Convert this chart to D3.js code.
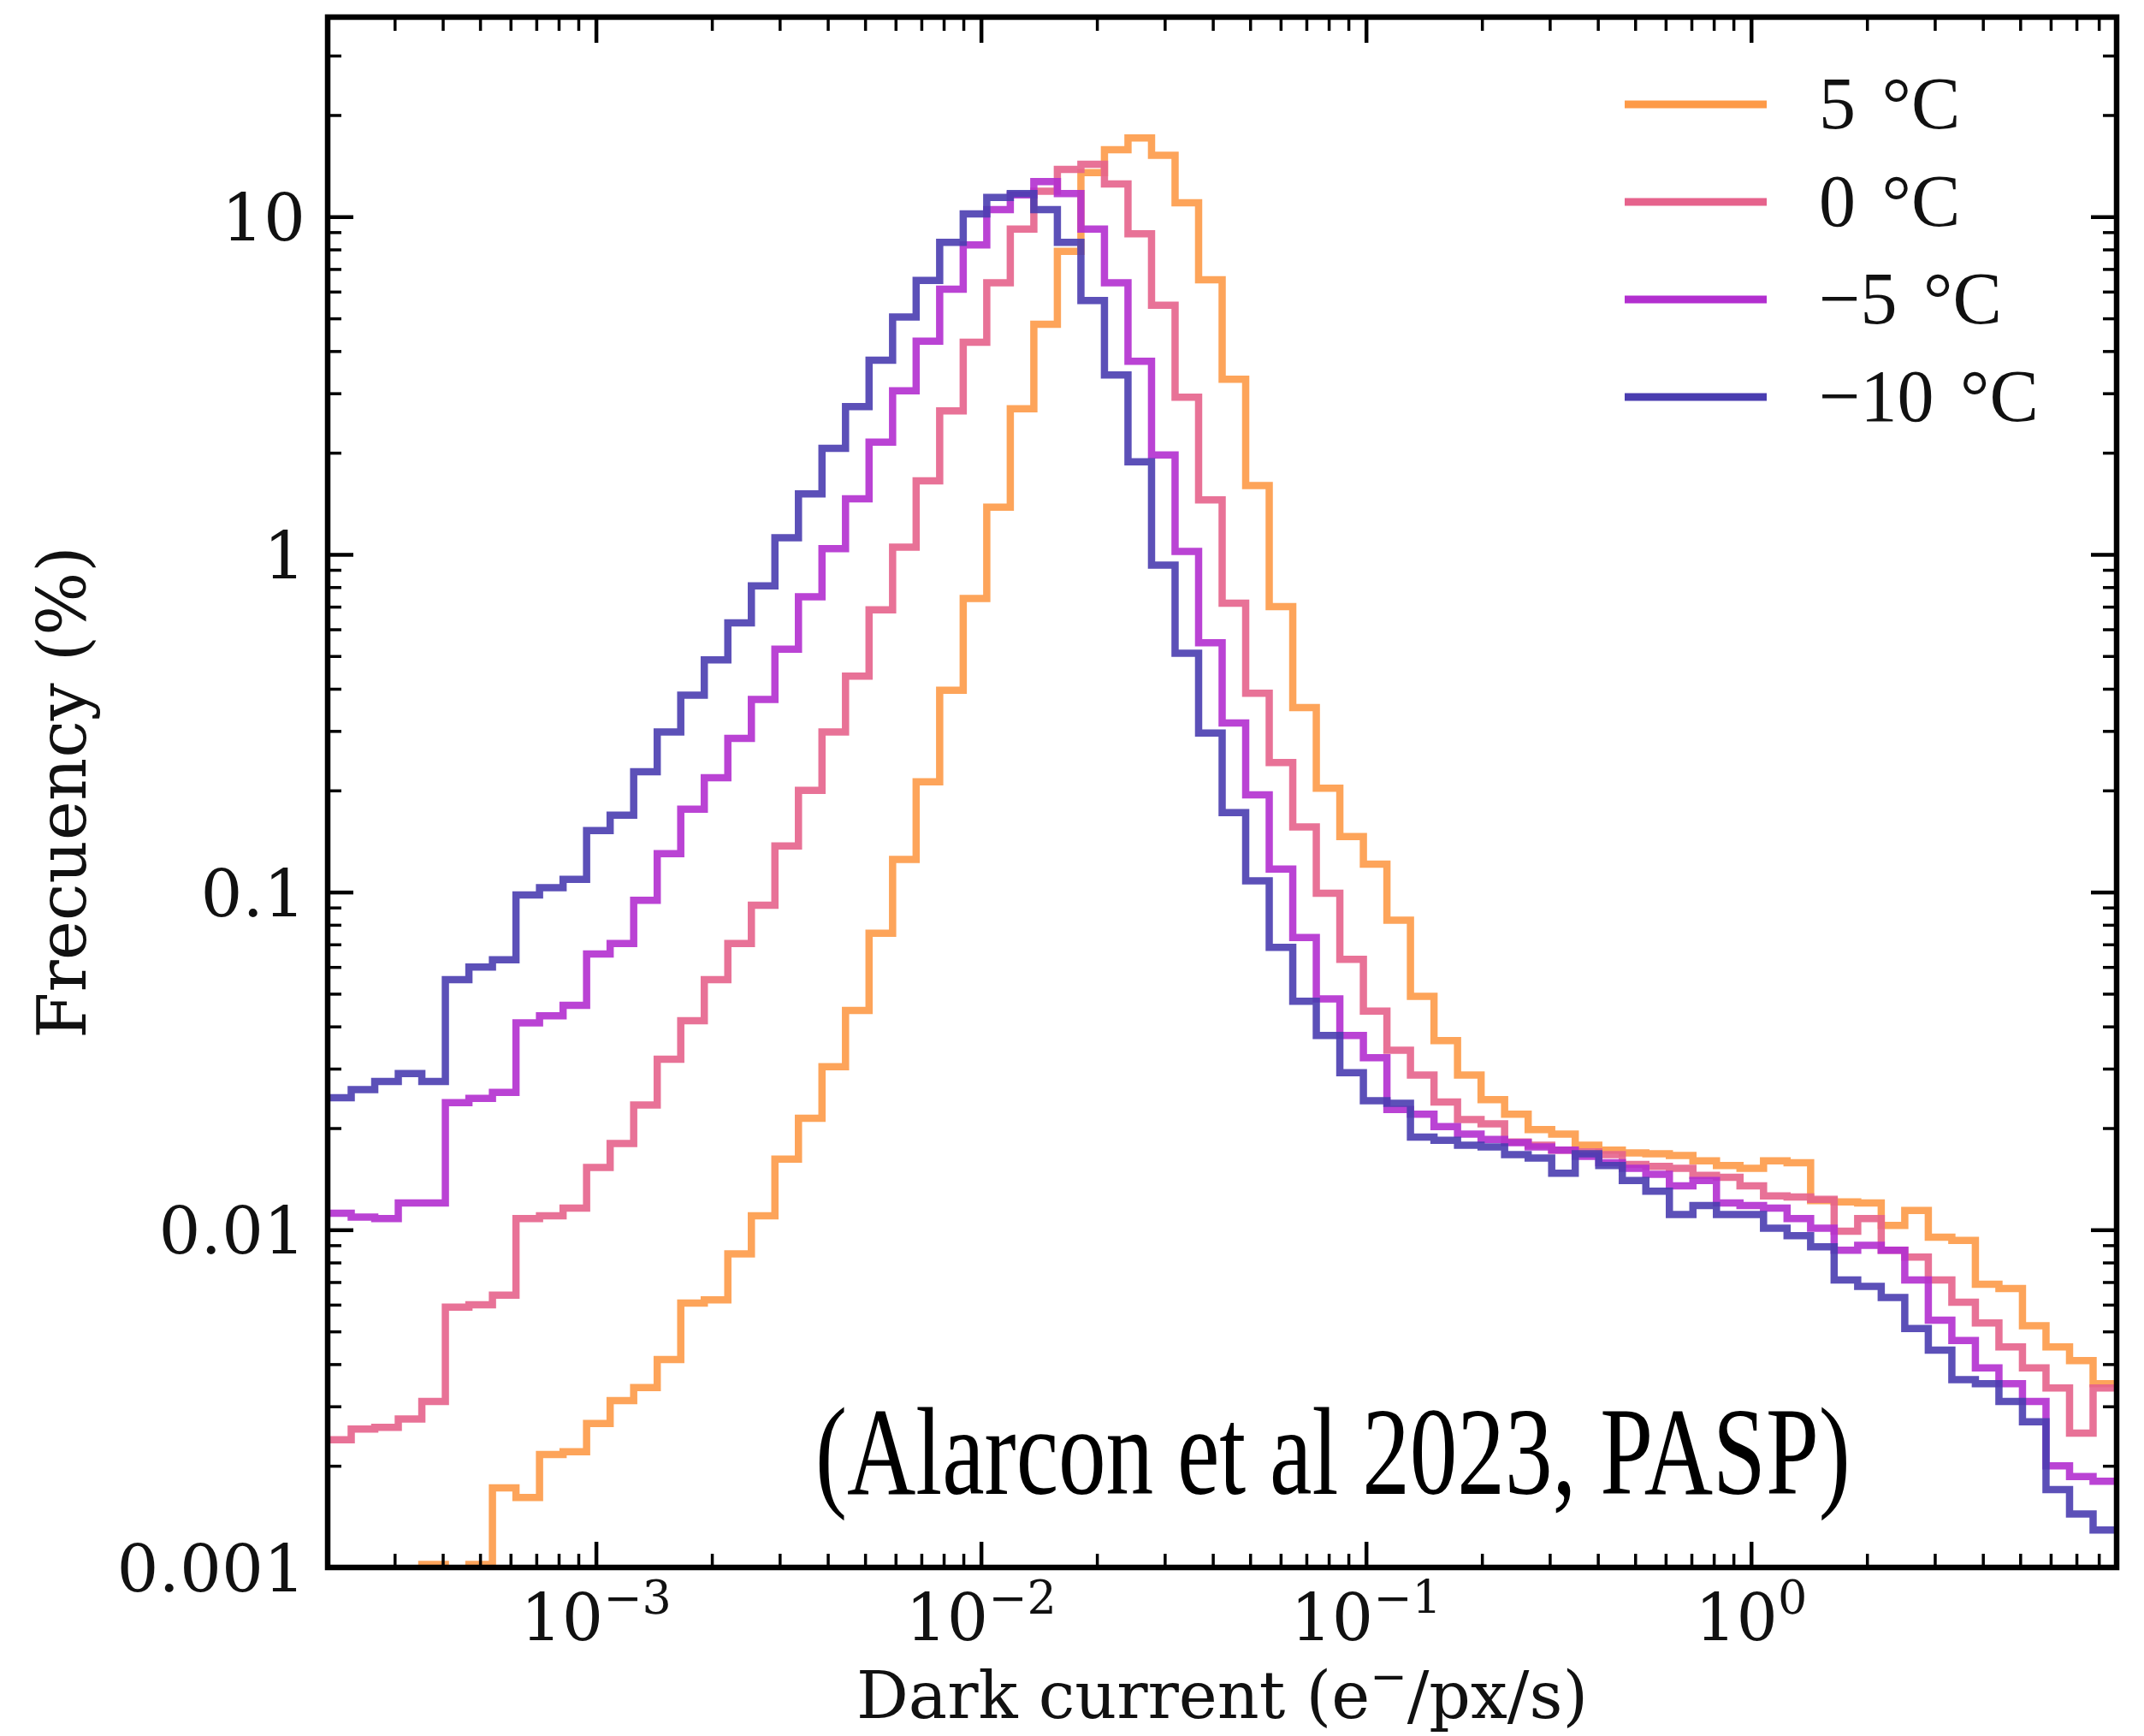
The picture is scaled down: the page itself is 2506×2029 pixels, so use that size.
<!DOCTYPE html>
<html>
<head>
<meta charset="utf-8">
<script src="https://cdn.jsdelivr.net/npm/d3@7"></script>
<style>
  html, body { margin: 0; padding: 0; background: #fff; }
  svg { display: block; }
</style>
</head>
<body>
<div id="chart"></div>
<script>
// Dark current histograms (log-binned, step outline), four sensor temperatures.

// ─── Data ─────────────────────────────────────────────────────────────────

const seriesNames  = ['5 °C', '0 °C', '−5 °C', '−10 °C'];
const seriesColors = ['#fd9a48', '#e6638c', '#b22fcf', '#4a3db0'];

// histogram bins: nBins log-spaced bins between binLo and binHi (e-/px/s)
const binLo = 2.01e-4;
const binHi = 8.9;
const nBins = 76;

// frequency (%) per bin
const freqP5 = [
  0.0008, 0.0008, 0.0008, 0.0009, 0.00102, 0.0009, 0.00102, 0.00172, 0.00161, 0.00216,
  0.0022, 0.00267, 0.00312, 0.00341, 0.00413, 0.00607, 0.0062, 0.00848, 0.0110, 0.0162,
  0.0214, 0.0304, 0.0446, 0.0755, 0.125, 0.212, 0.396, 0.74, 1.38, 2.7,
  4.8, 7.9, 13.5, 15.8, 17.1, 15.2, 11.0, 6.5, 3.3, 1.6,
  0.70, 0.352, 0.203, 0.146, 0.121, 0.0825, 0.0491, 0.0363, 0.0287, 0.0243,
  0.0220, 0.0198, 0.0192, 0.0178, 0.0172, 0.0169, 0.0168, 0.0166, 0.0160, 0.0155,
  0.0152, 0.0160, 0.0158, 0.0122, 0.0121, 0.0120, 0.0103, 0.0114, 0.0095, 0.0093,
  0.0069, 0.0067, 0.0052, 0.0045, 0.0041, 0.0035
];
const freq0 = [
  0.00239, 0.00257, 0.0026, 0.00275, 0.0031, 0.0059, 0.0060, 0.0064, 0.0108, 0.0110,
  0.0116, 0.0153, 0.0180, 0.0234, 0.032, 0.0416, 0.055, 0.0704, 0.0914, 0.137,
  0.200, 0.298, 0.436, 0.685, 1.05, 1.65, 2.66, 4.25, 6.37, 9.19,
  11.9, 13.8, 14.3, 12.5, 8.9, 5.47, 2.92, 1.45, 0.717, 0.388,
  0.242, 0.156, 0.0992, 0.0632, 0.0444, 0.034, 0.0287, 0.0239, 0.0212, 0.0206,
  0.0182, 0.0178, 0.0172, 0.0170, 0.0167, 0.0156, 0.0154, 0.0152, 0.0145, 0.0143,
  0.0135, 0.0126, 0.0125, 0.0123, 0.0099, 0.0108, 0.0087, 0.0083, 0.0071, 0.0061,
  0.0053, 0.0045, 0.0039, 0.0034, 0.0025, 0.0034
];
const freqM5 = [
  0.0112, 0.0109, 0.0108, 0.0120, 0.0120, 0.0238, 0.0245, 0.0255, 0.041, 0.043,
  0.0462, 0.0656, 0.0704, 0.0946, 0.130, 0.176, 0.218, 0.285, 0.372, 0.524,
  0.749, 1.04, 1.46, 2.15, 3.05, 4.28, 6.1, 8.25, 10.5, 11.6,
  12.7, 11.7, 9.19, 6.37, 3.73, 1.97, 1.02, 0.547, 0.317, 0.194,
  0.117, 0.0734, 0.0483, 0.0376, 0.0323, 0.0227, 0.022, 0.0202, 0.0192, 0.0185,
  0.0181, 0.0176, 0.0172, 0.0165, 0.0158, 0.0152, 0.0146, 0.0135, 0.0140, 0.0120,
  0.0118, 0.0116, 0.0108, 0.0101, 0.0087, 0.0090, 0.0087, 0.0071, 0.0054, 0.0047,
  0.0039, 0.0035, 0.0031, 0.0020, 0.00186, 0.0018
];
const freqM10 = [
  0.0246, 0.026, 0.0275, 0.029, 0.0275, 0.055, 0.060, 0.063, 0.098, 0.103,
  0.109, 0.152, 0.169, 0.227, 0.298, 0.383, 0.487, 0.627, 0.807, 1.12,
  1.51, 2.06, 2.74, 3.76, 5.05, 6.48, 8.4, 10.2, 11.4, 11.7,
  10.5, 8.4, 5.65, 3.4, 1.88, 0.93, 0.51, 0.296, 0.172, 0.108,
  0.0686, 0.0475, 0.0376, 0.0292, 0.0241, 0.0237, 0.0188, 0.0184, 0.0178, 0.0176,
  0.0167, 0.0163, 0.0147, 0.0168, 0.0155, 0.0140, 0.0130, 0.0111, 0.0118, 0.0111,
  0.0111, 0.0101, 0.0096, 0.0089, 0.0071, 0.0068, 0.0063, 0.0051, 0.0044, 0.0036,
  0.0035, 0.0031, 0.0027, 0.0017, 0.00144, 0.00129
];

// axes
const xDomain      = [binLo, binHi];
const yDomain      = [0.001, 39];
const xTickValues  = [1e-3, 1e-2, 1e-1, 1];
const xTickExps    = ['−3', '−2', '−1', '0'];
const yTickValues  = [0.001, 0.01, 0.1, 1, 10];
const yTickLabels  = ['0.001', '0.01', '0.1', '1', '10'];
const xLabel       = 'Dark current (e';
const yLabel       = 'Frecuency (%)';
const citation     = '(Alarcon et al 2023, PASP)';

// ─── Layout ───────────────────────────────────────────────────────────────

const W = 2506, H = 2029;
const margin = { top: 20, right: 32, bottom: 197, left: 383 };
const iw = W - margin.left - margin.right;
const ih = H - margin.top - margin.bottom;

const tickFont  = 'DejaVu Serif, Liberation Serif, serif';
const textFont  = 'Liberation Serif, DejaVu Serif, serif';

const svg = d3.select('#chart').append('svg')
  .attr('width', W)
  .attr('height', H)
  .style('background', '#fff');

const g = svg.append('g').attr('transform', `translate(${margin.left},${margin.top})`);

// ─── Scales ───────────────────────────────────────────────────────────────

const x = d3.scaleLog().domain(xDomain).range([0, iw]);
const y = d3.scaleLog().domain(yDomain).range([ih, 0]);

// log-spaced bin edges
const lo = Math.log10(binLo), hi = Math.log10(binHi);
const edges = d3.range(nBins + 1).map(i => Math.pow(10, lo + (hi - lo) * i / nBins));

// minor ticks (2..9 per decade) inside the domain
function minorTicks(domain) {
  const out = [];
  for (let e = Math.floor(Math.log10(domain[0])); e <= Math.ceil(Math.log10(domain[1])); e++) {
    for (let m = 2; m <= 9; m++) {
      const v = m * Math.pow(10, e);
      if (v > domain[0] && v < domain[1]) out.push(v);
    }
  }
  return out;
}

// ─── Histograms ───────────────────────────────────────────────────────────

svg.append('defs').append('clipPath').attr('id', 'plot-clip')
  .append('rect').attr('width', iw).attr('height', ih);

const series = [
  { name: seriesNames[0], color: seriesColors[0], values: freqP5 },
  { name: seriesNames[1], color: seriesColors[1], values: freq0 },
  { name: seriesNames[2], color: seriesColors[2], values: freqM5 },
  { name: seriesNames[3], color: seriesColors[3], values: freqM10 },
];

const step = d3.line()
  .x(d => x(d[0]))
  .y(d => y(d[1]))
  .curve(d3.curveStepAfter);

g.append('g').attr('clip-path', 'url(#plot-clip)')
  .selectAll('path')
  .data(series)
  .join('path')
  .attr('fill', 'none')
  .attr('stroke', s => s.color)
  .attr('stroke-width', 8.5)
  .attr('stroke-opacity', 0.9)
  .attr('stroke-linejoin', 'miter')
  .attr('d', s => {
    const pts = s.values.map((v, i) => [edges[i], v]);
    pts.push([edges[nBins], s.values[nBins - 1]]);
    return step(pts);
  });

// ─── Axes (ticks inward on all four sides) ────────────────────────────────

const xMinor = minorTicks(xDomain);
const yMinor = minorTicks(yDomain);

function drawAxis(axisFn, scale, values, size, transform) {
  const a = g.append('g')
    .attr('transform', transform || null)
    .call(axisFn(scale).tickValues(values).tickSize(-size).tickFormat(''));
  a.select('.domain').remove();
  a.selectAll('.tick line')
    .attr('stroke', '#000')
    .attr('stroke-width', size > 20 ? 4.5 : 3.5);
}

drawAxis(d3.axisBottom, x, xTickValues, 30, `translate(0,${ih})`);
drawAxis(d3.axisBottom, x, xMinor,      16, `translate(0,${ih})`);
drawAxis(d3.axisTop,    x, xTickValues, 30);
drawAxis(d3.axisTop,    x, xMinor,      16);
drawAxis(d3.axisLeft,   y, yTickValues, 30);
drawAxis(d3.axisLeft,   y, yMinor,      16);
drawAxis(d3.axisRight,  y, yTickValues, 30, `translate(${iw},0)`);
drawAxis(d3.axisRight,  y, yMinor,      16, `translate(${iw},0)`);

// frame
g.append('rect')
  .attr('width', iw)
  .attr('height', ih)
  .attr('fill', 'none')
  .attr('stroke', '#000')
  .attr('stroke-width', 6.5);

// x tick labels: 10^n
const xl = g.append('g')
  .attr('font-family', tickFont)
  .attr('fill', '#111')
  .selectAll('text')
  .data(xTickValues)
  .join('text')
  .attr('x', d => x(d))
  .attr('y', ih + 85)
  .attr('text-anchor', 'middle')
  .attr('font-size', 76);
xl.append('tspan').text('10');
xl.append('tspan')
  .attr('font-size', 54)
  .attr('dy', -31)
  .text((d, i) => xTickExps[i]);

// y tick labels
g.append('g')
  .attr('font-family', tickFont)
  .attr('fill', '#111')
  .selectAll('text')
  .data(yTickValues)
  .join('text')
  .attr('x', -26)
  .attr('y', d => y(d))
  .attr('dy', 28)
  .attr('text-anchor', 'end')
  .attr('font-size', 77)
  .text((d, i) => yTickLabels[i]);

// axis titles
const xt = g.append('text')
  .attr('x', iw / 2)
  .attr('y', ih + 176)
  .attr('text-anchor', 'middle')
  .attr('font-family', tickFont)
  .attr('font-size', 76)
  .attr('fill', '#111');
xt.append('tspan').text(xLabel);
xt.append('tspan').attr('font-size', 52).attr('dy', -31).text('−');
xt.append('tspan').attr('dy', 31).text('/px/s)');

g.append('text')
  .attr('transform', `translate(${100 - margin.left},${ih / 2}) rotate(-90)`)
  .attr('text-anchor', 'middle')
  .attr('font-family', tickFont)
  .attr('font-size', 78)
  .attr('fill', '#111')
  .text(yLabel);

// ─── Legend ───────────────────────────────────────────────────────────────

const legend = g.append('g')
  .attr('transform', `translate(${1899 - margin.left},${122 - margin.top})`);

const item = legend.selectAll('g')
  .data(series)
  .join('g')
  .attr('transform', (d, i) => `translate(0,${i * 114})`);

item.append('line')
  .attr('x1', 0).attr('x2', 166)
  .attr('stroke', d => d.color)
  .attr('stroke-width', 9);

item.append('text')
  .attr('x', 227)
  .attr('y', 28)
  .attr('font-family', textFont)
  .attr('font-size', 86)
  .attr('word-spacing', 9)
  .attr('fill', '#111')
  .text(d => d.name);

// ─── Citation ─────────────────────────────────────────────────────────────

// condensed look: scale the text horizontally to the measured width
const cite = g.append('text')
  .attr('font-family', textFont)
  .attr('font-size', 146)
  .attr('fill', '#000')
  .text(citation);
const citeW = cite.node().getComputedTextLength() || 1;
const citeSx = 1210 / citeW;
cite.attr('transform', `translate(${953 - margin.left},${1746 - margin.top}) scale(${citeSx},1)`);
</script>
</body>
</html>
